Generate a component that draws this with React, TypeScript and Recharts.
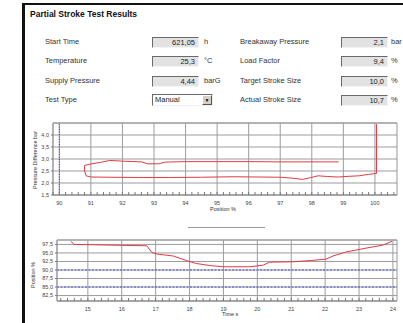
import React from 'react';
import { LineChart, Line, XAxis, YAxis, CartesianGrid, ReferenceLine, ReferenceArea } from 'recharts';

// ---- form values ----
const leftLabels = ['Start Time', 'Temperature', 'Supply Pressure', 'Test Type'];
const leftValues = ['621,05', '25,3', '4,44', 'Manual'];
const leftUnits = ['h', '°C', 'barG', ''];
const rightLabels = ['Breakaway Pressure', 'Load Factor', 'Target Stroke Size', 'Actual Stroke Size'];
const rightValues = ['2,1', '9,4', '10,0', '10,7'];
const rightUnits = ['bar', '%', '%', '%'];

// ---- upper chart: pressure difference vs position ----
const posX = [100.05, 100.05, 99.8, 99.5, 99.2, 98.85, 98.5, 98.2, 97.95, 97.7, 97.4, 97.0, 96.3, 95.5, 94.5, 93.5, 92.5, 91.6, 91.0, 90.85, 90.8, 90.8, 90.95, 91.3, 91.6, 92.0, 92.6, 92.8, 93.15, 93.35, 94.0, 95.0, 96.0, 97.0, 98.0, 98.85];
const posY = [4.45, 2.4, 2.36, 2.3, 2.28, 2.25, 2.27, 2.3, 2.22, 2.15, 2.2, 2.24, 2.25, 2.26, 2.24, 2.23, 2.23, 2.24, 2.25, 2.3, 2.5, 2.73, 2.78, 2.86, 2.94, 2.91, 2.88, 2.8, 2.8, 2.87, 2.89, 2.89, 2.89, 2.88, 2.88, 2.88];
const posMajor = [90, 91, 92, 93, 94, 95, 96, 97, 98, 99, 100];
const presTicks = [1.5, 2.0, 2.5, 3.0, 3.5, 4.0];

// ---- lower chart: position vs time ----
const timeX = [14.5, 14.6, 15.2, 16.15, 16.74, 16.89, 17.03, 17.52, 17.9, 18.2, 18.6, 18.99, 19.4, 19.78, 20.17, 20.36, 21.05, 21.6, 22.03, 22.23, 22.6, 23.2, 23.7, 23.97];
const timeY = [98.4, 97.5, 97.4, 97.2, 97.1, 95.1, 94.7, 94.1, 92.8, 91.9, 91.3, 90.95, 90.95, 90.95, 91.4, 92.3, 92.4, 92.8, 93.2, 94.1, 95.25, 96.4, 97.3, 98.4];
const timeMajor = [15, 16, 17, 18, 19, 20, 21, 22, 23, 24];
const positionTicks = [82.5, 85.0, 87.5, 90.0, 92.5, 95.0, 97.5];
const limitLines = [90, 85];

const posData = posX.map((x, i) => ({ x, y: posY[i] }));
const timeData = timeX.map((x, i) => ({ x, y: timeY[i] }));

const minorTicks = (from: number, to: number) => {
  const out: number[] = [];
  for (let k = Math.round(from * 5); k <= Math.round(to * 5); k++) out.push(k / 5);
  return out;
};
const upperMinor = minorTicks(89.8, 100.6);
const lowerMinor = minorTicks(14.2, 24.0);

const FONT = '"Liberation Sans", Arial, sans-serif';
const fmt = (v: number) => v.toFixed(1).replace('.', ',');

const MinorTick = (props: any) => {
  const { x, y, payload } = props;
  const v = payload.value;
  const isMajor = Math.abs(v - Math.round(v)) < 1e-6;
  return (
    <g>
      <line x1={x} x2={x} y1={y - 3} y2={y} stroke="#777" strokeWidth={1} />
      {isMajor && (
        <text x={x} y={y + 10} textAnchor="middle" fontSize={5.5} fill="#444" fontFamily={FONT}>
          {Math.round(v)}
        </text>
      )}
    </g>
  );
};

const boxStyle = (left: number, top: number, width: number): React.CSSProperties => ({
  position: 'absolute',
  left,
  top,
  width,
  height: 11,
  boxSizing: 'border-box',
  borderStyle: 'solid',
  borderWidth: 1,
  borderColor: '#6a6a6a #f4f4f4 #f4f4f4 #6a6a6a',
  background: '#e2e2e2',
  fontSize: 7.5,
  lineHeight: '9px',
  textAlign: 'right',
  paddingRight: 3,
  color: '#222',
});

const textStyle = (left: number, top: number): React.CSSProperties => ({
  position: 'absolute',
  left,
  top,
  fontSize: 7.5,
  lineHeight: '10px',
  color: '#333',
  whiteSpace: 'nowrap',
});

const rowCenters = [42, 61, 81, 100];
const GRID = '#9c9c9c';

export default function App() {
  return (
    <div style={{ position: 'absolute', left: 0, top: 0, width: 403, height: 323, background: '#fff', fontFamily: FONT, overflow: 'hidden' }}>
      {/* frame */}
      <div style={{ position: 'absolute', left: 22, top: 3, width: 381, height: 2, background: '#111' }} />
      <div style={{ position: 'absolute', left: 22, top: 3, width: 3, height: 320, background: '#111' }} />
      <div style={{ position: 'absolute', left: 30, top: 9, fontSize: 8.5, fontWeight: 'bold', color: '#111', whiteSpace: 'nowrap' }}>
        Partial Stroke Test Results
      </div>

      {leftLabels.map((lab, i) => (
        <React.Fragment key={'l' + i}>
          <div style={textStyle(45, rowCenters[i] - 5)}>{lab}</div>
          {i < 3 ? (
            <>
              <div style={boxStyle(152, rowCenters[i] - 5, 47)}>{leftValues[i]}</div>
              <div style={textStyle(204, rowCenters[i] - 5)}>{leftUnits[i]}</div>
            </>
          ) : (
            <div
              style={{
                position: 'absolute', left: 152, top: rowCenters[i] - 6, width: 61, height: 12, boxSizing: 'border-box',
                borderStyle: 'solid', borderWidth: 1, borderColor: '#6a6a6a #f0f0f0 #f0f0f0 #6a6a6a', background: '#fff',
                fontSize: 7.5, lineHeight: '10px', paddingLeft: 2, color: '#222',
              }}
            >
              {leftValues[i]}
              <div
                style={{
                  position: 'absolute', right: 0, top: 0, width: 10, height: 10, boxSizing: 'border-box', background: '#d4d0c8',
                  borderStyle: 'solid', borderWidth: 1, borderColor: '#fff #555 #555 #fff', fontSize: 5, lineHeight: '8px', textAlign: 'center', color: '#000',
                }}
              >
                ▼
              </div>
            </div>
          )}
        </React.Fragment>
      ))}

      {rightLabels.map((lab, i) => (
        <React.Fragment key={'r' + i}>
          <div style={textStyle(240, rowCenters[i] - 5)}>{lab}</div>
          <div style={boxStyle(341, rowCenters[i] - 5, 47)}>{rightValues[i]}</div>
          <div style={textStyle(391, rowCenters[i] - 5)}>{rightUnits[i]}</div>
        </React.Fragment>
      ))}

      {/* upper chart */}
      <div style={{ position: 'absolute', left: 0, top: 110 }}>
        <LineChart width={403} height={110} data={posData} margin={{ top: 13, right: 6, bottom: 5, left: 0 }}>
          <CartesianGrid vertical={false} stroke={GRID} strokeDasharray="" />
          {posMajor.map((v) => (
            <ReferenceLine key={v} x={v} stroke={GRID} />
          ))}
          <ReferenceArea x1={89.8} x2={100.7} y1={1.5} y2={4.5} fill="none" stroke="#999" />
          <ReferenceLine x={90} stroke="#3a3acc" strokeDasharray="1 1.5" />
          <XAxis
            type="number"
            dataKey="x"
            domain={[89.8, 100.7]}
            ticks={upperMinor}
            interval={0}
            allowDataOverflow
            height={20}
            tickSize={0}
            tickMargin={0}
            tickLine={false}
            axisLine={{ stroke: '#999' }}
            tick={<MinorTick />}
          />
          <YAxis
            type="number"
            domain={[1.5, 4.5]}
            ticks={presTicks}
            interval={0}
            width={53}
            tickSize={2}
            tickLine={{ stroke: '#777' }}
            axisLine={{ stroke: '#999' }}
            tickFormatter={fmt}
            tick={{ fontSize: 5.5, fill: '#444', fontFamily: FONT }}
          />
          <Line type="linear" dataKey="y" stroke="#e23a44" strokeWidth={1} dot={false} isAnimationActive={false} />
        </LineChart>
      </div>
      <div style={{ position: 'absolute', left: 210, top: 206, fontSize: 5.5, color: '#333', whiteSpace: 'nowrap' }}>Position %</div>
      <div
        style={{
          position: 'absolute', left: 35, top: 160, fontSize: 5.5, color: '#333', whiteSpace: 'nowrap',
          transform: 'translate(-50%, -50%) rotate(-90deg)',
        }}
      >
        Pressure Difference bar
      </div>

      {/* splitter */}
      <div style={{ position: 'absolute', left: 188, top: 227, width: 77, height: 1, background: '#9a9a9a' }} />

      {/* lower chart */}
      <div style={{ position: 'absolute', left: 0, top: 225 }}>
        <LineChart width={403} height={98} data={timeData} margin={{ top: 15, right: 6, bottom: 8, left: 0 }}>
          <CartesianGrid vertical={false} stroke={GRID} strokeDasharray="" />
          {timeMajor.map((v) => (
            <ReferenceLine key={v} x={v} stroke={GRID} />
          ))}
          <ReferenceArea x1={14.09} x2={24.12} y1={80.9} y2={98.8} fill="none" stroke="#999" />
          {limitLines.map((v) => (
            <ReferenceLine key={'lim' + v} y={v} stroke="#4a4ad0" strokeDasharray="2 1.5" />
          ))}
          <XAxis
            type="number"
            dataKey="x"
            domain={[14.09, 24.12]}
            ticks={lowerMinor}
            interval={0}
            allowDataOverflow
            height={14}
            tickSize={0}
            tickMargin={0}
            tickLine={false}
            axisLine={{ stroke: '#999' }}
            tick={<MinorTick />}
          />
          <YAxis
            type="number"
            domain={[80.9, 98.8]}
            ticks={positionTicks}
            interval={0}
            allowDataOverflow
            width={57}
            tickSize={2}
            tickLine={{ stroke: '#777' }}
            axisLine={{ stroke: '#999' }}
            tickFormatter={fmt}
            tick={{ fontSize: 5.5, fill: '#444', fontFamily: FONT }}
          />
          <Line type="linear" dataKey="y" stroke="#e23a44" strokeWidth={1} dot={false} isAnimationActive={false} />
        </LineChart>
      </div>
      <div style={{ position: 'absolute', left: 222, top: 311, fontSize: 5.5, color: '#333', whiteSpace: 'nowrap' }}>Time s</div>
      <div
        style={{
          position: 'absolute', left: 33, top: 275, fontSize: 5.5, color: '#333', whiteSpace: 'nowrap',
          transform: 'translate(-50%, -50%) rotate(-90deg)',
        }}
      >
        Position %
      </div>
    </div>
  );
}
